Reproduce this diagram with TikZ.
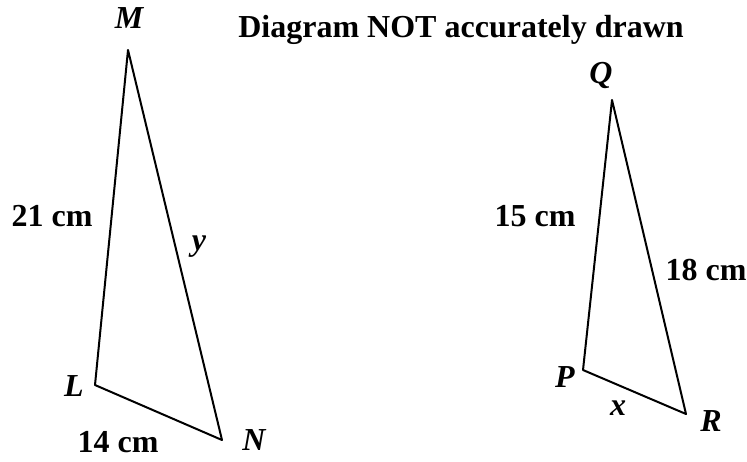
\documentclass[tikz,border=0pt]{standalone}
\usepackage{fontspec}
\setmainfont{Liberation Serif}
\tikzset{
  vlab/.style={font=\fontsize{16}{19}\selectfont\bfseries\itshape},
  slab/.style={font=\fontsize{16}{19}\selectfont\bfseries}
}
\begin{document}
\begin{tikzpicture}[x=0.5pt, y=-0.5pt, line width=1pt, line join=round]
\useasboundingbox (0,0) rectangle (747,461);

\node[slab] (T) at (461,30) {Diagram NOT accurately drawn};

% first triangle
\coordinate (M) at (128,50);
\coordinate (L) at (95,385);
\coordinate (N) at (222,440);
\draw (M)--(L)--(N)--cycle;
\node[vlab] (Mlab) at (129,18) {M};
\node[vlab] (Llab) at (74,386) {L};
\node[vlab] (Nlab) at (254,440) {N};
\node[slab] (LM) at (52,216) {21 cm};
\node[vlab] (MN) at (199,247) {y};
\node[slab] (LN) at (118,442) {14 cm};

% second triangle
\coordinate (Q) at (612,100);
\coordinate (P) at (583,370);
\coordinate (R) at (686,414);
\draw (Q)--(P)--(R)--cycle;
\node[vlab] (Qlab) at (601,75) {Q};
\node[vlab] (Plab) at (565,377) {P};
\node[vlab] (Rlab) at (711,421) {R};
\node[slab] (PQ) at (535,216) {15 cm};
\node[slab] (QR) at (706,270) {18 cm};
\node[vlab] (PR) at (618,408) {x};
\end{tikzpicture}
\end{document}
